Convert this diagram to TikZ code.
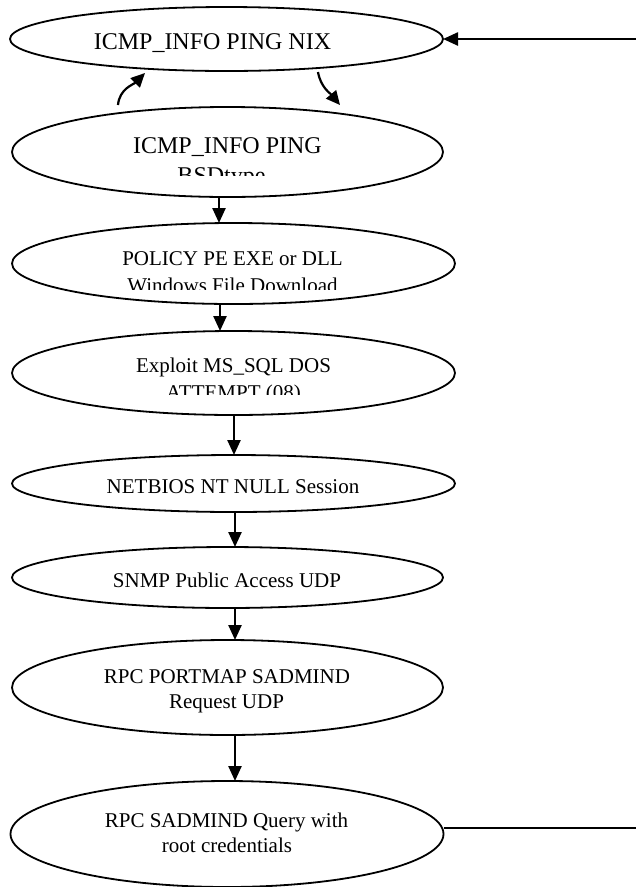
\documentclass[tikz,border=0pt]{standalone}
\usepackage{fontspec}
\setmainfont{Liberation Serif}
\usetikzlibrary{arrows.meta,shapes.geometric}
\begin{document}
\begin{tikzpicture}[x=1pt,y=1pt,
  state/.style={draw,ellipse,line width=1.8pt,inner sep=0pt,outer sep=0pt},
  lbl/.style={anchor=base,inner sep=0pt,font=\fontsize{21}{25}\selectfont},
  lblbig/.style={anchor=base,inner sep=0pt,font=\fontsize{24}{28}\selectfont},
  arr/.style={line width=2.4pt,-{Triangle[length=15pt,width=13pt]}},
  curvearr/.style={line width=2.2pt,-{Triangle[length=14pt,width=13pt]}}]
% page frame
\clip (0,0) rectangle (636,-887);
\fill[white] (0,0) rectangle (636,-887);

% alert states
\node[state,minimum width=433pt,minimum height=64pt]  (e1) at (226.5,-39)   {};
\node[state,minimum width=431pt,minimum height=90pt]  (e2) at (227.5,-152)  {};
\node[state,minimum width=443pt,minimum height=81pt]  (e3) at (233.5,-263.5){};
\node[state,minimum width=443pt,minimum height=84pt]  (e4) at (233.5,-373)  {};
\node[state,minimum width=443pt,minimum height=57pt]  (e5) at (233.5,-483.5){};
\node[state,minimum width=431pt,minimum height=61pt]  (e6) at (227.5,-577.5){};
\node[state,minimum width=431pt,minimum height=95pt]  (e7) at (227.5,-687.5){};
\node[state,minimum width=433pt,minimum height=106pt] (e8) at (227,-834)    {};

% labels
\node[lblbig] (t1) at (212.5,-49.5) {ICMP\_INFO PING NIX};
\node[lblbig] (t2a) at (227.5,-153) {ICMP\_INFO PING};
\begin{scope}
  \clip (0,0) rectangle (636,-175);
  \node[lblbig] (t2b) at (221.5,-183) {BSDtype};
\end{scope}
\node[lbl] (t3a) at (232.5,-265) {POLICY PE EXE or DLL};
\begin{scope}
  \clip (0,0) rectangle (636,-289);
  \node[lbl] (t3b) at (232.5,-292) {Windows File Download};
\end{scope}
\node[lbl] (t4a) at (233.5,-372) {Exploit MS\_SQL DOS};
\begin{scope}
  \clip (0,0) rectangle (636,-394);
  \node[lbl] (t4b) at (233.5,-399) {ATTEMPT (08)};
\end{scope}
\node[lbl] (t5) at (233,-493) {NETBIOS NT NULL Session};
\node[lbl] (t6) at (227,-587) {SNMP Public Access UDP};
\node[lbl] (t7a) at (227,-683) {RPC PORTMAP SADMIND};
\node[lbl] (t7b) at (226.5,-708) {Request UDP};
\node[lbl] (t8a) at (226.5,-827) {RPC SADMIND Query with};
\node[lbl] (t8b) at (227,-852) {root credentials};

% x positions of the straight links
\coordinate (k23) at (219,0);
\coordinate (k34) at (220,0);
\coordinate (k45) at (234,0);
\coordinate (k56) at (235,0);

% ping loop between the two ICMP states
\draw[curvearr] ([shift={(-109.5,47)}]e2.center) to[out=85,in=225] ([shift={(-81.5,-34)}]e1.center);
\draw[curvearr] ([shift={(91.5,-33)}]e1.center) to[out=-80,in=130] ([shift={(112.5,47)}]e2.center);

% chain of steps
\draw[arr] (e2.south -| k23) -- (e3.north -| k23);
\draw[arr] (e3.south -| k34) -- (e4.north -| k34);
\draw[arr] (e4.south -| k45) -- (e5.north -| k45);
\draw[arr] (e5.south -| k56) -- (e6.north -| k56);
\draw[arr] (e6.south -| k56) -- (e7.north -| k56);
\draw[arr] (e7.south -| k56) -- (e8.north -| k56);

% return link back to the first state
\draw[arr] ([yshift=6pt]e8.east) -- ++(330,0) |- (e1.east);
\end{tikzpicture}
\end{document}
